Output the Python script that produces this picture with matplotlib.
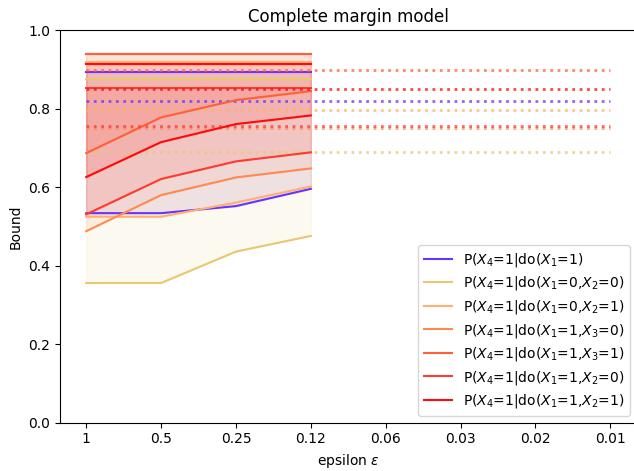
import matplotlib
matplotlib.use("Agg")
import matplotlib.pyplot as plt

# ── Data ─────────────────────────────────────────────────────────────────────
eps_labels = ["1", "0.5", "0.25", "0.12", "0.06", "0.03", "0.02", "0.01"]

series_labels = [
    r"P($X_4$=1|do($X_1$=1)",
    r"P($X_4$=1|do($X_1$=0,$X_2$=0)",
    r"P($X_4$=1|do($X_1$=0,$X_2$=1)",
    r"P($X_4$=1|do($X_1$=1,$X_3$=0)",
    r"P($X_4$=1|do($X_1$=1,$X_3$=1)",
    r"P($X_4$=1|do($X_1$=1,$X_2$=0)",
    r"P($X_4$=1|do($X_1$=1,$X_2$=1)",
]

# lower bounds for the first four epsilons
lower = [
    [0.534, 0.534, 0.552, 0.596],
    [0.356, 0.356, 0.436, 0.476],
    [0.525, 0.525, 0.561, 0.602],
    [0.488, 0.580, 0.625, 0.648],
    [0.687, 0.778, 0.822, 0.845],
    [0.531, 0.621, 0.666, 0.689],
    [0.626, 0.715, 0.761, 0.783],
]
upper = [
    [0.893, 0.893, 0.893, 0.893],
    [0.877, 0.877, 0.877, 0.877],
    [0.918, 0.918, 0.918, 0.918],
    [0.940, 0.940, 0.940, 0.940],
    [0.940, 0.940, 0.940, 0.940],
    [0.853, 0.853, 0.853, 0.853],
    [0.913, 0.913, 0.913, 0.913],
]
true_vals = [0.820, 0.690, 0.797, 0.752, 0.898, 0.757, 0.851]

colors = ["#6633ff", "#e8c870", "#ffb070", "#ff8a50", "#ff6038", "#ff3a30", "#ff0a0a"]

# ── Plot ─────────────────────────────────────────────────────────────────────
fig = plt.figure(figsize=(6.34, 4.71), dpi=100)
ax = fig.add_axes([60 / 634, 48.3 / 471, 576.5 / 634, 392.4 / 471])

x_all = list(range(len(eps_labels)))
for lo, up, tv, c, lab in zip(lower, upper, true_vals, colors, series_labels):
    xs = x_all[:len(lo)]
    ax.plot(xs, lo, color=c, lw=1.5, label=lab)
    ax.plot(xs, up, color=c, lw=1.5)
    ax.fill_between(xs, lo, up, color=c, alpha=0.1)
    ax.plot([x_all[0], x_all[-1]], [tv, tv], color=c, lw=2, ls=":", alpha=0.75)

ax.set_xticks(x_all)
ax.set_xticklabels(eps_labels)
ax.set_xlim(-0.35, 7.35)
ax.set_ylim(0, 1)
ax.set_xlabel(r"epsilon $\epsilon$")
ax.set_ylabel("Bound")
ax.set_title("Complete margin model")
ax.legend(loc="lower right", labelspacing=0.4)

fig.savefig("out.png", dpi=100)
